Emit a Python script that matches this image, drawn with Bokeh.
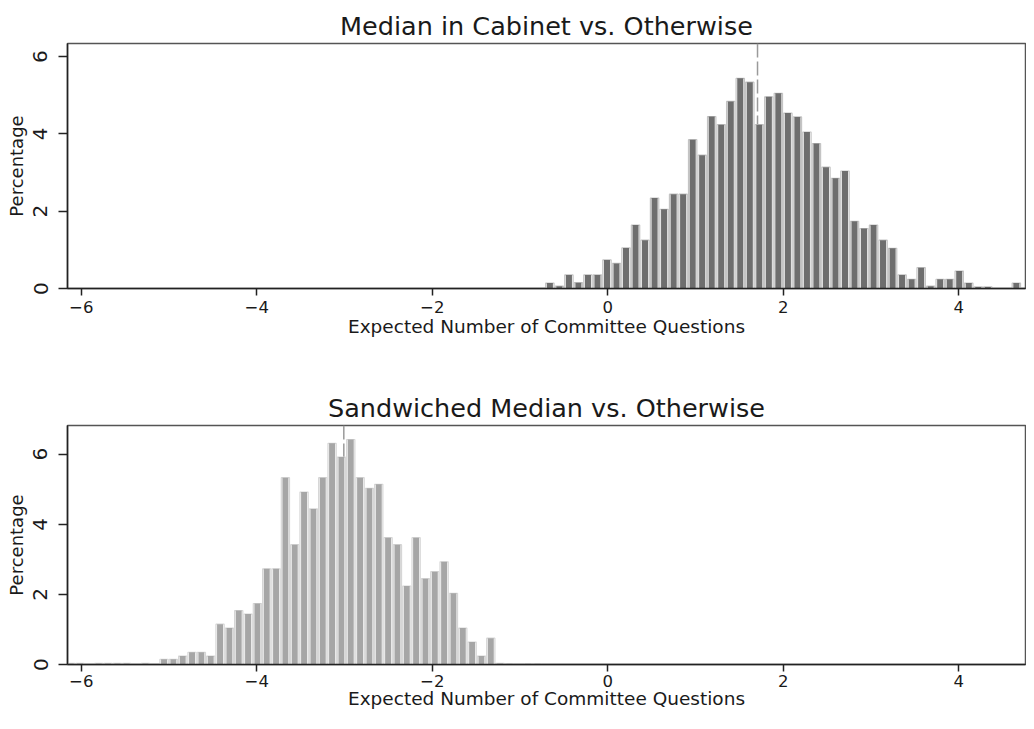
import numpy as np
from bokeh.plotting import figure
from bokeh.layouts import column
from bokeh.models import Span, FixedTicker, Range1d
from bokeh.embed import file_html
from bokeh.resources import INLINE

FONT = "DejaVu Sans"

# ---------------- data ----------------
top_title = "Median in Cabinet vs. Otherwise"
bottom_title = "Sandwiched Median vs. Otherwise"
x_label = "Expected Number of Committee Questions"
y_label = "Percentage"
x_ticks = [-6, -4, -2, 0, 2, 4]
x_tick_labels = ["\u22126", "\u22124", "\u22122", "0", "2", "4"]
y_ticks = [0, 2, 4, 6]
y_tick_labels = ["0", "2", "4", "6"]

# histogram bins: left edge of first bin and bin width
top_bin_start = -0.714
top_bin_width = 0.1085
top_pct = [0.14, 0.06, 0.35, 0.15, 0.35, 0.35, 0.74, 0.65, 1.05, 1.64,
           1.25, 2.34, 2.05, 2.44, 2.44, 3.85, 3.45, 4.45, 4.24, 4.84,
           5.44, 5.34, 4.24, 4.96, 5.05, 4.54, 4.44, 4.05, 3.75, 3.14,
           2.85, 3.04, 1.74, 1.55, 1.64, 1.25, 1.04, 0.35, 0.24, 0.54,
           0.06, 0.24, 0.24, 0.45, 0.14, 0.04, 0.04, 0.0, 0.0, 0.14]
top_median = 1.707

bottom_bin_start = -6.174
bottom_bin_width = 0.1064
bottom_pct = [0.03, 0.03, 0.0, 0.03, 0.03, 0.03, 0.03, 0.0, 0.03, 0.0,
              0.15, 0.15, 0.24, 0.35, 0.35, 0.24, 1.15, 1.04, 1.54, 1.44,
              1.74, 2.73, 2.73, 5.33, 3.42, 4.92, 4.44, 5.33, 6.31, 5.92,
              6.42, 5.33, 5.03, 5.14, 3.62, 3.42, 2.24, 3.62, 2.45, 2.65,
              2.93, 2.03, 1.04, 0.64, 0.24, 0.75, 0.03, 0.02, 0.0, 0.02,
              0.02]
bottom_median = -3.008


def make_panel(title, pct, bin_start, bin_width, median, fill, edge,
               height, b_top, b_bottom, y_end, tick_standoff, label_standoff):
    p = figure(width=1026, height=height, output_backend="svg",
               toolbar_location=None,
               x_range=Range1d(-6.157, 4.761), y_range=Range1d(0, y_end),
               min_border_left=67, min_border_right=1,
               min_border_top=b_top, min_border_bottom=b_bottom,
               background_fill_color="white", border_fill_color="white")
    p.grid.visible = False
    p.outline_line_color = "#555555"
    p.outline_line_width = 1.5

    p.title.text = title
    p.title.text_font = FONT
    p.title.text_font_size = "25.5px"
    p.title.text_font_style = "normal"
    p.title.text_color = "#1a1a1a"
    p.title.align = "center"
    p.title.offset = 4
    p.title.standoff = 6

    n = len(pct)
    centers = bin_start + bin_width * (np.arange(n) + 0.5)

    p.add_layout(Span(location=median, dimension="height",
                      line_color="#9a9a9a", line_dash="14 4",
                      line_width=1.5, level="underlay"))

    p.vbar(x=centers, top=pct, width=bin_width * 0.88, bottom=0,
           fill_color="white", line_color=edge, line_width=1.2)
    p.vbar(x=centers, top=pct, width=bin_width * 0.64, bottom=0,
           fill_color=fill, line_color=None)

    xa = p.xaxis[0]
    xa.ticker = FixedTicker(ticks=x_ticks)
    xa.major_label_overrides = dict(zip(x_ticks, x_tick_labels))
    xa.axis_label = x_label
    ya = p.yaxis[0]
    ya.ticker = FixedTicker(ticks=y_ticks)
    ya.major_label_overrides = dict(zip(y_ticks, y_tick_labels))
    ya.axis_label = y_label
    ya.major_label_orientation = "vertical"

    for ax in (xa, ya):
        ax.axis_line_color = "#222222"
        ax.axis_line_width = 1.5
        ax.major_tick_line_color = "#222222"
        ax.major_tick_line_width = 1.5
        ax.minor_tick_line_color = None
        ax.major_tick_in = 0
        ax.major_label_text_font = FONT
        ax.major_label_text_color = "#1a1a1a"
        ax.axis_label_text_font = FONT
        ax.axis_label_text_font_style = "normal"
        ax.axis_label_text_color = "#1a1a1a"
    xa.major_tick_out = 7
    xa.major_label_standoff = tick_standoff
    xa.major_label_text_font_size = "16.5px"
    xa.axis_label_text_font_size = "18.5px"
    xa.axis_label_standoff = label_standoff
    ya.major_tick_out = 9
    ya.major_label_standoff = 11
    ya.major_label_text_font_size = "20px"
    ya.axis_label_text_font_size = "18px"
    ya.axis_label_standoff = 4
    return p


p_top = make_panel(top_title, top_pct, top_bin_start, top_bin_width,
                   top_median, "#6e6e6e", "#c4c4c4", 345, 43, 57, 6.34, 5, 0)
p_bot = make_panel(bottom_title, bottom_pct, bottom_bin_start,
                   bottom_bin_width, bottom_median, "#a6a6a6", "#d6d6d6",
                   368, 80, 49, 6.82, 3, -2)

layout = column(p_top, p_bot)
open("out.html", "w").write(file_html(layout, INLINE))
